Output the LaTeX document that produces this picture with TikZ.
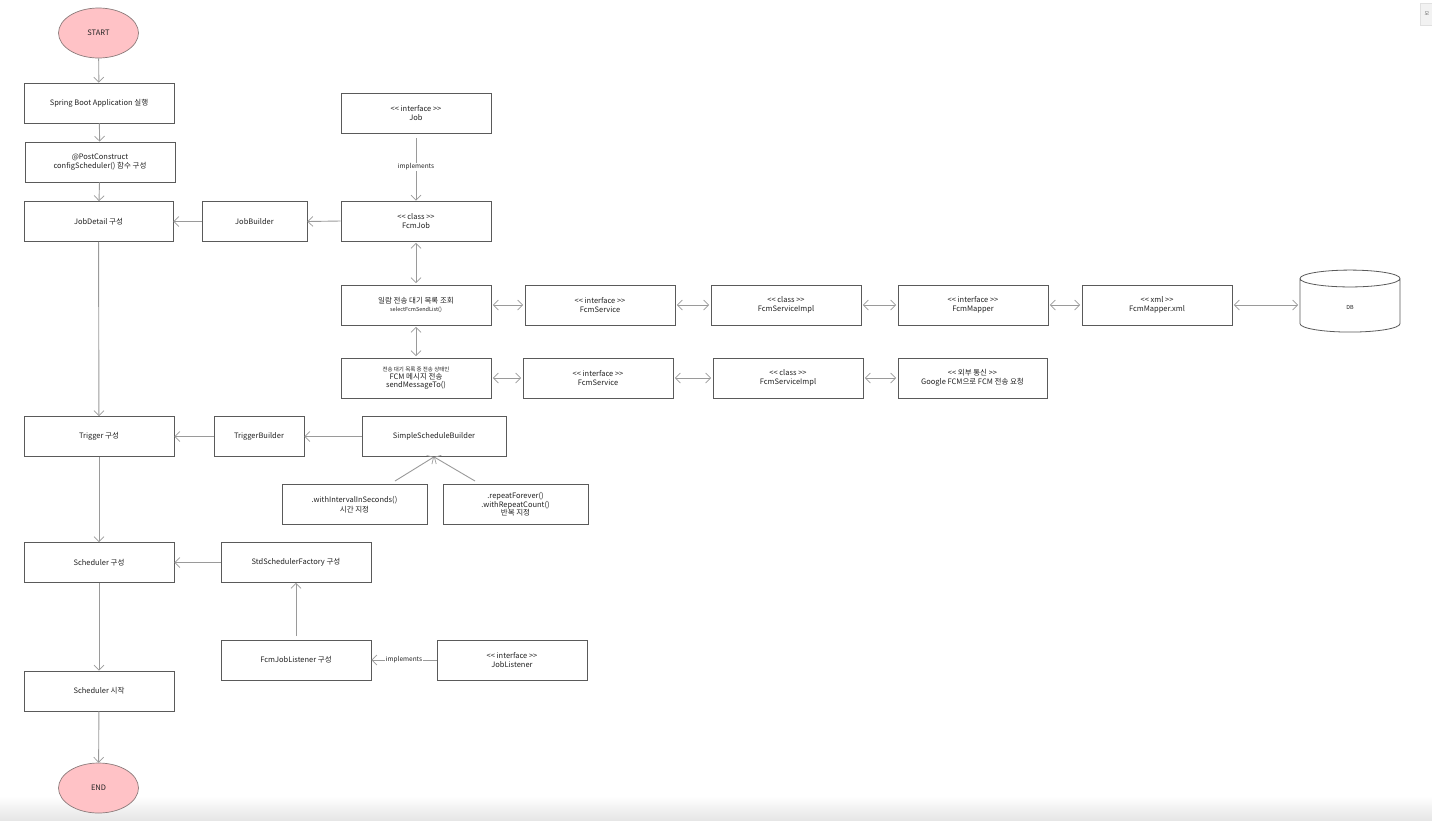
\documentclass[tikz,border=0pt]{standalone}
\usepackage{fontspec}
\setmainfont{Noto Sans CJK KR}
\usetikzlibrary{arrows.meta,shapes.geometric}
\definecolor{boxc}{HTML}{5A5A5A}
\definecolor{linec}{HTML}{9A9A9A}
\definecolor{txt}{HTML}{222222}
\definecolor{pinkc}{HTML}{FFC2C6}
\definecolor{pinkb}{HTML}{8A7A7A}
\newcommand\lsg{<{}<}
\newcommand\gsg{>{}>}
\begin{document}
\begin{tikzpicture}[x=1pt,y=-1pt,
  box/.style={draw=boxc, line width=0.8pt, minimum width=150pt, minimum height=40pt,
    inner sep=1pt, align=center, font=\fontsize{7.5}{9.5}\selectfont, text=txt},
  term/.style={ellipse, draw=pinkb, line width=0.7pt, fill=pinkc, minimum width=80pt,
    minimum height=50pt, font=\fontsize{7.5}{9}\selectfont, text=txt},
  tip/.tip={Straight Barb[length=5pt,width=10pt,line width=0.7pt]},
  conn/.style={draw=linec, line width=0.9pt, -tip},
  bi/.style={draw=linec, line width=0.9pt, tip-tip, shorten <=1.5pt, shorten >=1.5pt},
  lbl/.style={fill=white, inner sep=1pt, font=\fontsize{6.5}{7.5}\selectfont, text=txt}
]
\useasboundingbox (0,0) rectangle (1432,820);
\fill[white] (0,0) rectangle (1432,820);
\shade[top color=white, bottom color=black!10] (0,796) rectangle (1432,820);
\node[draw=black!12, fill=black!5, minimum width=13pt, minimum height=22pt, inner sep=0pt,
  font=\fontsize{5}{6}\selectfont, text=black!60] (btn) at (1427,14) {모};

% main flow
\node[term] (start) at (98.5,33) {START};
\node[box] (spring) at (99,103) {Spring Boot Application 실행};
\node[box] (post) at (100,162) {@PostConstruct\\configScheduler() 함수 구성};
\node[box, minimum width=149pt] (jobdetail) at (98.5,221.5) {JobDetail 구성};
\node[box] (trigger) at (99,436.5) {Trigger 구성};
\node[box] (sched) at (99,562.5) {Scheduler 구성};
\node[box] (schedstart) at (99,691) {Scheduler 시작};
\node[term] (end) at (98.5,788) {END};

% job side
\node[box, minimum width=105pt] (jobbuilder) at (254.5,221.5) {JobBuilder};
\node[box] (job) at (416,113) {\lsg{} interface \gsg\\Job};
\node[box] (fcmjob) at (416,221) {\lsg{} class \gsg\\FcmJob};
\node[box] (sel) at (416,305) {일람 전송 대기 목록 조회\\[-1pt]{\fontsize{5.5}{6.5}\selectfont selectFcmSendList()}};
\node[box] (send) at (416,378) {{\fontsize{5.5}{6.5}\selectfont 전송 대기 목록 중 전송 상태인}\\[-1.5pt]FCM 메시지 전송\\[-1.5pt]sendMessageTo()};
\node[box] (svc1) at (600,305) {\lsg{} interface \gsg\\FcmService};
\node[box] (impl1) at (786,305) {\lsg{} class \gsg\\FcmServiceImpl};
\node[box] (mapper) at (973,305) {\lsg{} interface \gsg\\FcmMapper};
\node[box] (xml) at (1157,305) {\lsg{} xml \gsg\\FcmMapper.xml};
\node[cylinder, shape border rotate=90, aspect=1.2, draw=boxc, line width=0.8pt,
  minimum width=100pt, minimum height=62pt, font=\fontsize{5.5}{6.5}\selectfont, text=txt] (db) at (1350,307) {DB};
\node[box] (svc2) at (598,378) {\lsg{} interface \gsg\\FcmService};
\node[box] (impl2) at (788,378) {\lsg{} class \gsg\\FcmServiceImpl};
\node[box, minimum width=149pt] (ext) at (972.5,378) {\lsg{} 외부 통신 \gsg\\Google FCM으로 FCM 전송 요청};

% trigger side
\node[box, minimum width=90pt] (tbuilder) at (259,436.5) {TriggerBuilder};
\node[box, minimum width=144pt] (simple) at (434,436.5) {SimpleScheduleBuilder};
\node[box, minimum width=145pt] (interval) at (354.5,504.5) {.withIntervalInSeconds()\\시간 지정};
\node[box, minimum width=145pt] (repeat) at (515.5,504.5) {.repeatForever()\\[-1pt].withRepeatCount()\\[-1pt]반복 지정};

% scheduler side
\node[box] (factory) at (296,562.5) {StdSchedulerFactory 구성};
\node[box] (listener) at (296,660) {FcmJobListener 구성};
\node[box] (joblistener) at (512,660) {\lsg{} interface \gsg\\JobListener};

\coordinate (ia) at (395,481);
\coordinate (ra) at (475,481);
\coordinate (la) at (296,636);

% connectors main flow
\draw[conn] (start) -- (spring);
\draw[conn] (spring) -- (post);
\draw[conn] (post) -- (jobdetail);
\draw[conn] (jobdetail) -- (trigger);
\draw[conn] (trigger) -- (sched);
\draw[conn] (sched) -- (schedstart);
\draw[conn] (schedstart) -- (end);

% job
\draw[conn] (jobbuilder) -- (jobdetail);
\draw[conn] (fcmjob.west) -- (jobbuilder.east);
\draw[conn, shorten <=5pt] (job) -- node[lbl]{implements} (fcmjob);
\draw[bi] (fcmjob) -- (sel);
\draw[bi] (sel) -- (send);
\draw[bi] (sel) -- (svc1);
\draw[bi] (svc1) -- (impl1);
\draw[bi] (impl1) -- (mapper);
\draw[bi] (mapper) -- (xml);
\draw[bi] (xml.east) -- (db.west |- xml.east);
\draw[bi] (send) -- (svc2);
\draw[bi] (svc2) -- (impl2);
\draw[bi] (impl2) -- (ext);

% trigger
\draw[conn] (tbuilder) -- (trigger);
\draw[conn] (simple) -- (tbuilder);
\draw[conn] (ia) -- (simple.south);
\draw[conn] (ra) -- (simple.south);

% scheduler
\draw[conn] (factory) -- (sched);
\draw[conn] (la) -- (factory);
\draw[conn] (joblistener) -- node[lbl]{implements} (listener);
\end{tikzpicture}
\end{document}
